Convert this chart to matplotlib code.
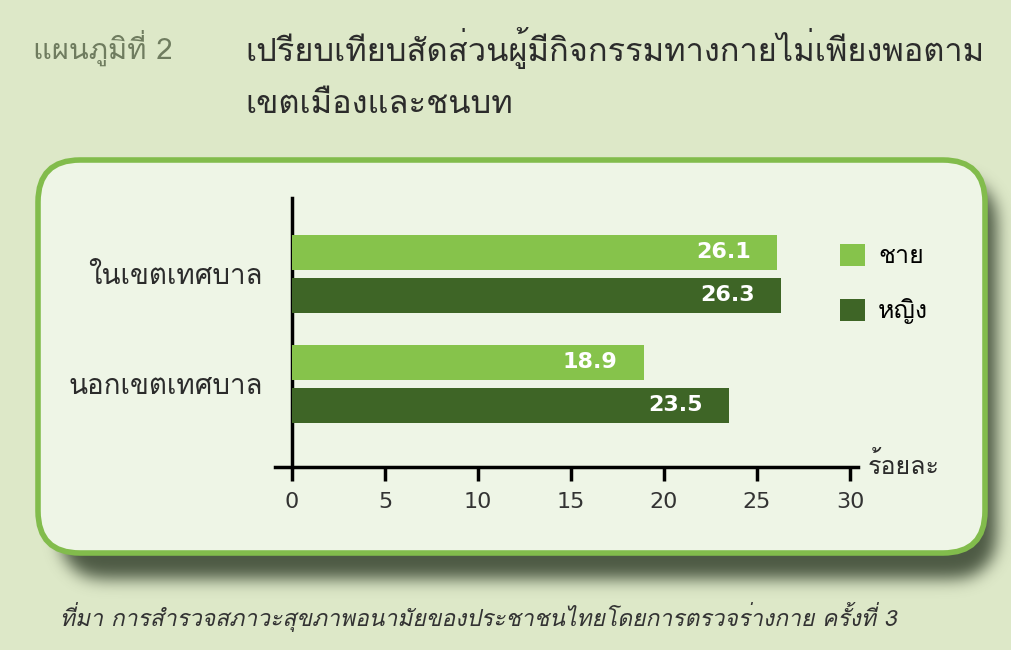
import matplotlib
matplotlib.use('Agg')
import matplotlib.pyplot as plt
from matplotlib import font_manager
from matplotlib.ft2font import FT2Font
from matplotlib.patches import FancyBboxPatch
import numpy as np

# ข้อมูล
areas = ['ในเขตเทศบาล', 'นอกเขตเทศบาล']
male = [26.1, 18.9]
female = [26.3, 23.5]
series_names = ['ชาย', 'หญิง']
xticks = [0, 5, 10, 15, 20, 25, 30]

# หาฟอนต์ที่มีอักษรไทย
thai_font = None
for f in font_manager.fontManager.ttflist:
    try:
        if 0x0E01 in FT2Font(f.fname).get_charmap():
            thai_font = f.name
            break
    except Exception:
        pass
fams = [thai_font, 'DejaVu Sans'] if thai_font else ['DejaVu Sans']
plt.rcParams['font.family'] = fams

bg = '#dde8c8'
inner = '#eef5e6'
border = '#82bc4c'
c_male = '#86c34b'
c_female = '#3e6526'
W, H = 1012, 650

fig = plt.figure(figsize=(10.12, 6.5), dpi=100, facecolor=bg)

# พื้นหลัง (พิกัดเป็นพิกเซล)
bga = fig.add_axes([0, 0, 1, 1])
bga.set_xlim(0, W)
bga.set_ylim(H, 0)
bga.axis('off')

# เงาเบลอของกล่อง
yy, xx = np.mgrid[0:H, 0:W]
x0, x1, y0, y1, r = 60, 996, 178, 578, 40
cx = np.clip(xx, x0 + r, x1 - r)
cy = np.clip(yy, y0 + r, y1 - r)
mask = (((xx - cx) ** 2 + (yy - cy) ** 2) <= r * r).astype(float)
k = np.exp(-0.5 * (np.arange(-24, 25) / 8.0) ** 2)
k /= k.sum()
mask = np.apply_along_axis(lambda m: np.convolve(m, k, mode='same'), 0, mask)
mask = np.apply_along_axis(lambda m: np.convolve(m, k, mode='same'), 1, mask)
shadow = np.zeros((H, W, 4))
shadow[..., :3] = np.array([0x33, 0x40, 0x2c]) / 255
shadow[..., 3] = mask * 0.85
bga.imshow(shadow, extent=[0, W, H, 0], zorder=1, interpolation='bilinear')
bga.set_xlim(0, W)
bga.set_ylim(H, 0)
bga.set_aspect('auto')

bga.add_patch(FancyBboxPatch((38, 160), 947, 393,
                             boxstyle='round,pad=0,rounding_size=42',
                             fc=inner, ec=border, lw=4, zorder=2))

bga.text(33, 48, 'แผนภูมิที่ 2', fontsize=21, color='#6f7c5f', va='center')
bga.text(245, 48, 'เปรียบเทียบสัดส่วนผู้มีกิจกรรมทางกายไม่เพียงพอตาม',
         fontsize=23.5, color='#2b2b2b', va='center')
bga.text(245, 105, 'เขตเมืองและชนบท', fontsize=23.5, color='#2b2b2b', va='center')
bga.text(60, 617, 'ที่มา การสำรวจสภาวะสุขภาพอนามัยของประชาชนไทยโดยการตรวจร่างกาย ครั้งที่ 3',
         fontsize=16.5, color='#333333', va='center', style='italic')
bga.text(868, 466, 'ร้อยละ', fontsize=18, color='#2b2b2b', va='center', zorder=5)

# กราฟแท่ง
ax = fig.add_axes([275 / W, 1 - 467 / H, (858 - 275) / W, (467 - 198) / H])
ax.patch.set_alpha(0)
ypos = np.array([1, 0])
bh = 0.318
off = 0.195
b1 = ax.barh(ypos + off, male, height=bh, color=c_male, label=series_names[0], zorder=3)
b2 = ax.barh(ypos - off, female, height=bh, color=c_female, label=series_names[1], zorder=3)
for bars, vals in ((b1, male), (b2, female)):
    for rr, v in zip(bars, vals):
        ax.text(v - 1.4, rr.get_y() + rr.get_height() / 2, f'{v}', ha='right',
                va='center', color='white', fontsize=16, fontweight='bold',
                family=['DejaVu Sans'], zorder=4)

ax.set_xlim(-17 / 18.6, 30 + 8 / 18.6)
ax.set_ylim(-0.755, 1.69)
for s in ('top', 'right'):
    ax.spines[s].set_visible(False)
ax.spines['left'].set_position(('data', 0))
ax.spines['left'].set_linewidth(2.5)
ax.spines['bottom'].set_linewidth(2.5)
ax.set_xticks(xticks)
ax.set_xticklabels([str(t) for t in xticks], fontsize=16, color='#333333',
                   family=['DejaVu Sans'])
ax.tick_params(axis='x', length=10, width=2.5, direction='out', pad=8)
ax.set_yticks(ypos)
ax.set_yticklabels(areas, fontsize=20, color='#2b2b2b')
ax.tick_params(axis='y', length=0, pad=21)

fig.legend(handles=[b1, b2], loc='upper left', bbox_to_anchor=(818 / W, 1 - 221 / H),
           frameon=False, fontsize=18, handlelength=1.0, handleheight=1.0,
           handletextpad=0.5, labelspacing=1.2)

fig.savefig('out.png', dpi=100, facecolor=bg)
